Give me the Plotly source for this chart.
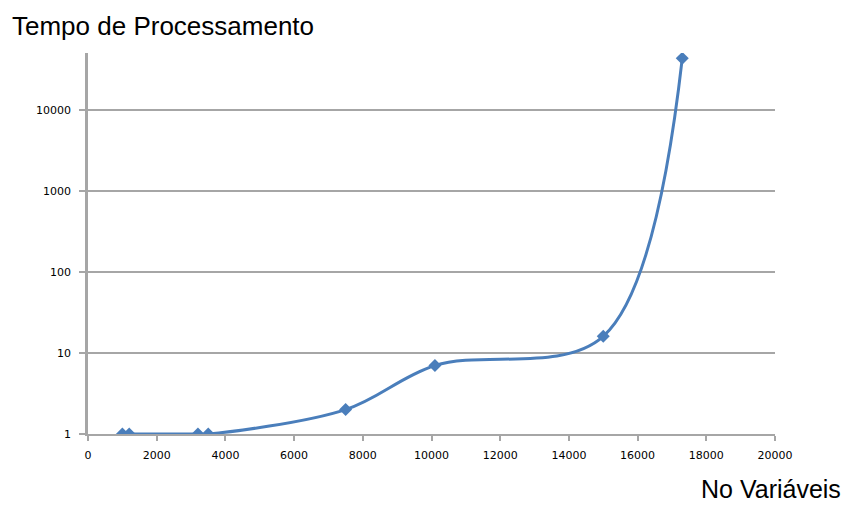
import math
import plotly.graph_objects as go

# Number of variables vs. processing time
variaveis = [1000, 1200, 3200, 3500, 7500, 10100, 15000, 17300]
tempo = [1, 1, 1, 1, 2, 7, 16, 43000]

y_ticks = [1, 10, 100, 1000, 10000]
y_labels = ["1", "10", "100", "1000", "10000"]
x_ticks = list(range(0, 20001, 2000))

blue = "#4A7EBB"
grid = "#A6A6A6"

fig = go.Figure(
    go.Scatter(
        x=variaveis,
        y=tempo,
        mode="lines+markers",
        line=dict(color=blue, width=3, shape="spline", smoothing=1.0),
        marker=dict(symbol="diamond", size=10, color=blue),
        showlegend=False,
    )
)

fig.update_layout(
    width=847,
    height=505,
    margin=dict(l=88, r=72, t=53, b=71),
    paper_bgcolor="white",
    plot_bgcolor="white",
    font=dict(family="Liberation Sans, Arial, sans-serif", color="#000000"),
)

fig.update_xaxes(
    range=[0, 20000],
    tickvals=x_ticks,
    ticktext=[str(v) for v in x_ticks],
    tickfont=dict(size=11, family="DejaVu Sans", color="#000000"),
    ticklabelstandoff=5,
    showgrid=False,
    showline=True,
    linecolor=grid,
    linewidth=2,
    ticks="outside",
    ticklen=5,
    tickcolor=grid,
    tickwidth=1.5,
    zeroline=False,
)

fig.update_yaxes(
    type="log",
    range=[0, math.log10(50000)],
    tickvals=y_ticks,
    ticktext=y_labels,
    tickfont=dict(size=11, family="DejaVu Sans", color="#000000"),
    ticklabelstandoff=6,
    showgrid=True,
    gridcolor=grid,
    gridwidth=2,
    showline=True,
    linecolor=grid,
    linewidth=2.5,
    ticks="outside",
    ticklen=6,
    tickcolor=grid,
    tickwidth=2,
    zeroline=False,
)

fig.add_annotation(
    text="Tempo de Processamento",
    xref="paper", yref="paper",
    x=-78 / 687, y=1 + 27 / 381,
    xanchor="left", yanchor="middle",
    showarrow=False,
    font=dict(size=26, family="Liberation Sans, Arial, sans-serif", color="#000000"),
)
fig.add_annotation(
    text="No Variáveis",
    xref="paper", yref="paper",
    x=1 + 67 / 687, y=-70 / 381,
    xanchor="right", yanchor="bottom",
    borderpad=0,
    showarrow=False,
    font=dict(size=25, family="Liberation Sans, Arial, sans-serif", color="#000000"),
)

fig.write_html("out.html")
